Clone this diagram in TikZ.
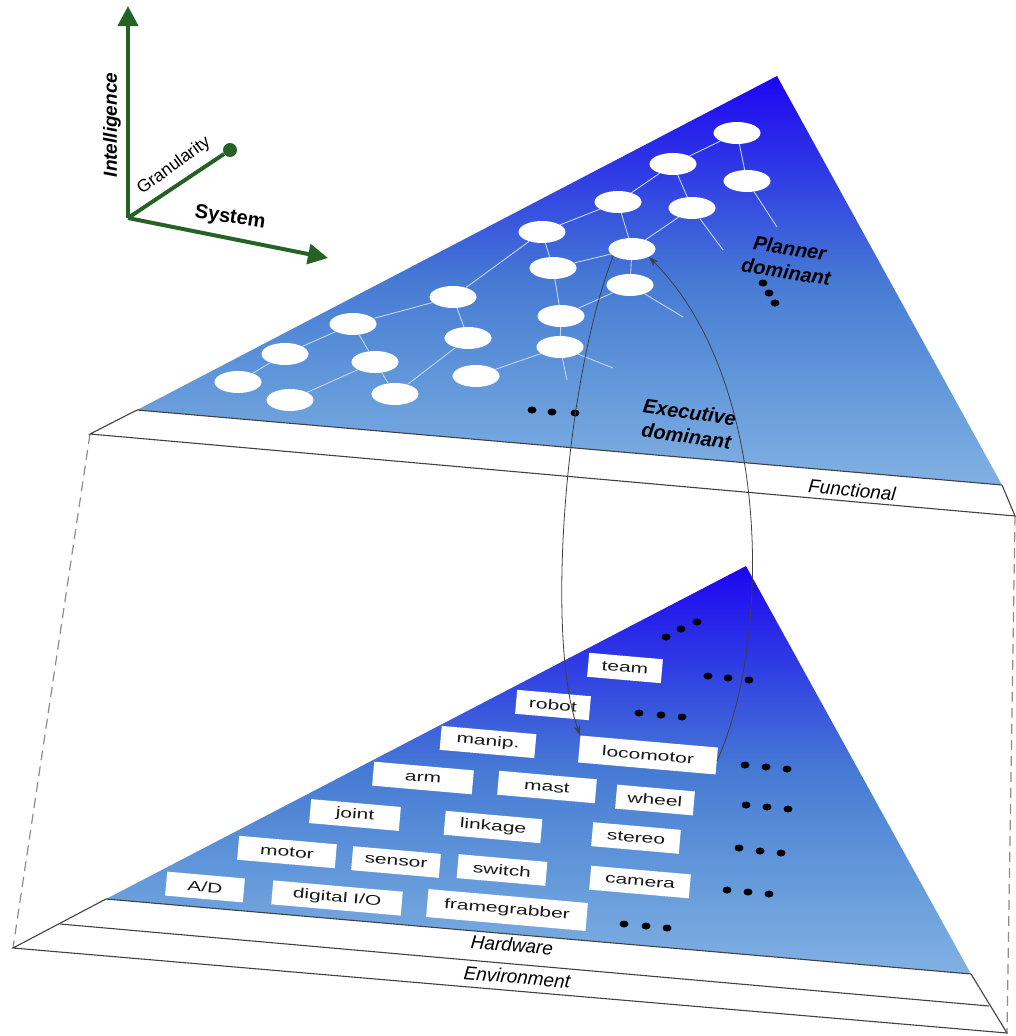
\documentclass[tikz,border=0pt]{standalone}
\usepackage{fontspec}
\setmainfont{Liberation Sans}
\usetikzlibrary{shapes.geometric,arrows.meta}
\definecolor{bluetop}{RGB}{30,5,242}
\definecolor{blueq}{RGB}{48,62,228}
\definecolor{bluemid}{RGB}{70,122,212}
\definecolor{bluetq}{RGB}{98,152,218}
\definecolor{bluebot}{RGB}{130,177,227}
\definecolor{axgreen}{RGB}{38,98,38}
\definecolor{slabline}{RGB}{65,65,65}
\definecolor{dashgray}{RGB}{140,140,140}
\definecolor{graphline}{RGB}{190,212,240}
\pgfdeclareverticalshading{slabshade}{100bp}{color(0bp)=(bluebot); color(25bp)=(bluebot); color(37.5bp)=(bluetq); color(50bp)=(bluemid); color(62.5bp)=(blueq); color(75bp)=(bluetop); color(100bp)=(bluetop)}
\begin{document}
\begin{tikzpicture}[x=1pt,y=-1pt,
  oval/.style={ellipse, fill=white, minimum width=47pt, minimum height=22pt, inner sep=0pt},
  glink/.style={draw=graphline, line width=0.9pt},
  slab/.style={draw=slabline, line width=1.1pt},
  proj/.style={draw=dashgray, dash pattern=on 10pt off 6pt, line width=1.2pt},
  comp/.style={fill=white, rotate=-5, minimum height=24pt, inner sep=0pt, font=\fontsize{14}{14}\selectfont, text=black!90},
  dotmark/.style={ellipse, fill=black, minimum width=9pt, minimum height=7pt, inner sep=0pt},
  axisline/.style={draw=axgreen, line width=4pt},
  flow/.style={draw=black!75, line width=0.8pt, -{Stealth[length=10pt,width=7pt]}},
  lab/.style={font=\fontsize{20}{24}\selectfont\bfseries\itshape, align=center},
  bandlab/.style={font=\fontsize{19}{22}\selectfont\itshape, rotate=-5},
]
\useasboundingbox (0,0) rectangle (1015,1036);

% slab geometry
\coordinate (UA) at (777,76);
\coordinate (UL) at (137,410);
\coordinate (UR) at (1002,485);
\coordinate (ULb) at (90,434);
\coordinate (URb) at (1015,516);
\coordinate (LA) at (746,566);
\coordinate (LL) at (106,899);
\coordinate (LR) at (971,974);
\coordinate (LL1) at (60,924);
\coordinate (LR1) at (989,1006);
\coordinate (LL2) at (13,948);
\coordinate (LR2) at (1007,1033);

% projection lines
\draw[proj] (ULb) -- (LL2);
\draw[proj] (URb) -- (LR2);

% upper slab
\shade[shading=slabshade] (UA) -- (UL) -- (UR) -- cycle;
\draw[slab] (UL) -- (UR);
\draw[slab] (UL) -- (ULb) -- (URb) -- (UR);

% lower slab
\shade[shading=slabshade] (LA) -- (LL) -- (LR) -- cycle;
\draw[slab] (LL) -- (LR);
\draw[slab] (LL) -- (LL2) -- (LR2) -- (LR);
\draw[slab] (LL1) -- (LR1);

% axes
\coordinate (O) at (128,218);
\coordinate (Itip) at (128,6);
\coordinate (Stip) at (328,258);
\node[circle, fill=axgreen, minimum size=14pt, inner sep=0pt] (gend) at (230,150) {};
\draw[axisline] (O) -- (gend);
\draw[axisline, -{Triangle[length=20pt,width=20pt]}] (O) -- (Itip);
\draw[axisline, -{Triangle[length=20pt,width=20pt]}] (O) -- (Stip);
\node[font=\fontsize{19}{19}\selectfont\bfseries\itshape, rotate=90] (tInt) at (112,125) {Intelligence};
\node[font=\fontsize{17.5}{17.5}\selectfont, rotate=36] (tGran) at (174,166) {Granularity};
\node[font=\fontsize{20}{20}\selectfont\bfseries, rotate=-9] (tSys) at (230,218) {System};

% functional graph
\node[oval] (e1) at (238,382) {};
\node[oval] (e2) at (285,354) {};
\node[oval] (e3) at (290,400) {};
\node[oval] (e4) at (353,324) {};
\node[oval] (e5) at (375,362) {};
\node[oval] (e6) at (395,394) {};
\node[oval] (e7) at (453,297) {};
\node[oval] (e8) at (468,338) {};
\node[oval] (e9) at (476,376) {};
\node[oval] (e10) at (542,232) {};
\node[oval] (e11) at (553,268) {};
\node[oval] (e12) at (561,316) {};
\node[oval] (e13) at (560,347) {};
\node[oval] (e14) at (618,202) {};
\node[oval] (e15) at (632,249) {};
\node[oval] (e16) at (630,285) {};
\node[oval] (e17) at (673,164) {};
\node[oval] (e18) at (692,208) {};
\node[oval] (e19) at (737,133) {};
\node[oval] (e20) at (747,181) {};
\coordinate (f1) at (777,227);
\coordinate (f2) at (723,250);
\coordinate (f3) at (683,317);
\coordinate (f4) at (567,380);
\coordinate (f5) at (613,368);
\foreach \a/\b in {e1/e2,e2/e4,e4/e7,e7/e10,e10/e14,e14/e17,e17/e19,e19/e20,e17/e18,e14/e15,e18/e15,e15/e16,e10/e11,e11/e15,e11/e12,e12/e16,e12/e13,e13/e9,e7/e8,e8/e6,e4/e5,e5/e6,e3/e5,e20/f1,e18/f2,e16/f3,e13/f4,e13/f5}
  \draw[glink] (\a) -- (\b);

% dots in functional layer
\node[dotmark] (ud1) at (532,410) {};
\node[dotmark] (ud2) at (552,412) {};
\node[dotmark] (ud3) at (575,413) {};
\node[dotmark] (vd1) at (763,283) {};
\node[dotmark] (vd2) at (769,293) {};
\node[dotmark] (vd3) at (775,303) {};

\node[lab, rotate=-9] (plan) at (788,260) {Planner\\dominant};
\node[lab, rotate=-8] (exec) at (688,424) {Executive\\dominant};
\node[bandlab] (func) at (852,490) {Functional};
\node[bandlab] (hw) at (512,945) {Hardware};
\node[bandlab] (env) at (517,977) {Environment};

% hardware components
\node[comp, minimum width=74pt] (team) at (625,668) {\scalebox{1.5}[1]{team}};
\node[comp, minimum width=74pt] (robot) at (553,705) {\scalebox{1.5}[1]{robot}};
\node[comp, minimum width=95pt] (manip) at (488,742) {\scalebox{1.5}[1]{manip.}};
\node[comp, minimum width=138pt, minimum height=27pt] (loco) at (648,755) {\scalebox{1.5}[1]{locomotor}};
\node[comp, minimum width=100pt] (arm) at (423,778) {\scalebox{1.5}[1]{arm}};
\node[comp, minimum width=98pt] (mast) at (547,787) {\scalebox{1.5}[1]{mast}};
\node[comp, minimum width=78pt] (wheel) at (655,800) {\scalebox{1.5}[1]{wheel}};
\node[comp, minimum width=90pt] (joint) at (355,815) {\scalebox{1.5}[1]{joint}};
\node[comp, minimum width=97pt] (linkage) at (493,827) {\scalebox{1.5}[1]{linkage}};
\node[comp, minimum width=88pt] (stereo) at (636,838) {\scalebox{1.5}[1]{stereo}};
\node[comp, minimum width=98pt] (motor) at (287,852) {\scalebox{1.5}[1]{motor}};
\node[comp, minimum width=88pt] (sensor) at (396,862) {\scalebox{1.5}[1]{sensor}};
\node[comp, minimum width=89pt] (switch) at (502,870) {\scalebox{1.5}[1]{switch}};
\node[comp, minimum width=100pt] (camera) at (640,882) {\scalebox{1.5}[1]{camera}};
\node[comp, minimum width=78pt] (ad) at (205,887) {\scalebox{1.5}[1]{A/D}};
\node[comp, minimum width=130pt] (dio) at (337,898) {\scalebox{1.5}[1]{digital I/O}};
\node[comp, minimum width=160pt, minimum height=28pt] (fg) at (507,910) {\scalebox{1.5}[1]{framegrabber}};

% dots in hardware layer
\foreach \n/\x/\y in {a1/666/637,a2/681/629,a3/697/622,
  b1/708/676,b2/728/678,b3/749/680,
  c1/639/713,c2/661/715,c3/682/717,
  d1/745/765,d2/766/767,d3/787/769,
  g1/746/805,g2/767/807,g3/788/809,
  h1/739/848,h2/760/851,h3/781/853,
  k1/727/890,k2/748/892,k3/769/894,
  m1/624/924,m2/646/926,m3/667/928}
  \node[dotmark] (ld\n) at (\x,\y) {};

% interaction arrows
\draw[flow] (e15.200) .. controls (565,380) and (545,640) .. (loco.north west);
\draw[flow] (loco.east) .. controls (772,640) and (772,380) .. (e15.-25);
\end{tikzpicture}
\end{document}
